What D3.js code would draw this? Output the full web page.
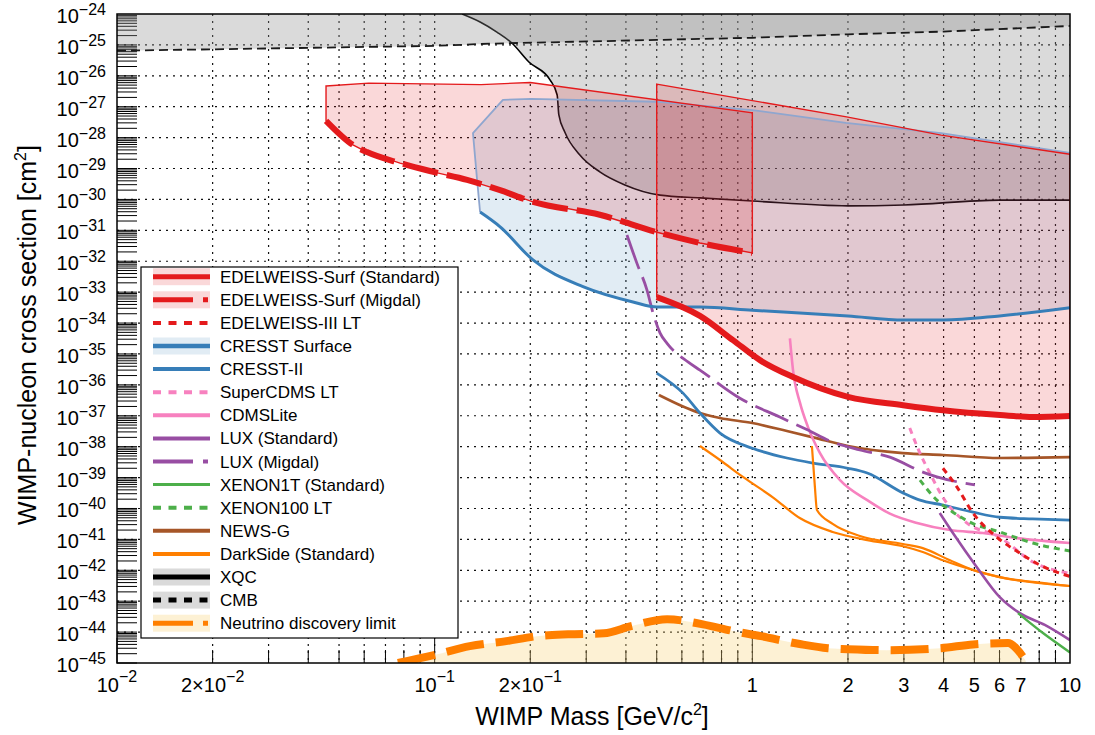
<!DOCTYPE html>
<html>
<head>
<meta charset="utf-8">
<script src="https://cdn.jsdelivr.net/npm/d3@7"></script>
<style>
  html, body { margin: 0; padding: 0; background: #fff; }
  svg { display: block; font-family: "Liberation Sans", Arial, Helvetica, sans-serif; }
</style>
</head>
<body>
<svg id="chart" width="1095" height="735"></svg>
<script>
// ---- exclusion limits: [WIMP mass (GeV/c^2), cross section (cm^2)] ----
const cmbLimit = [[0.01,6.5e-26],[0.02,7.2e-26],[0.1,9.3e-26],[0.15,1.1e-25],[0.5,1.45e-25],[1,1.7e-25],[2,2.2e-25],[4,2.7e-25],[10,4.1e-25]];
const xqcLimit = [[0.122,1.0e-24],[0.139,5.5e-25],[0.157,2.6e-25],[0.175,1.15e-25],[0.198,2.8e-26],[0.231,7.3e-27],[0.243,2.4e-27],[0.246,5.4e-28],[0.257,1.5e-28],[0.286,2.8e-29],[0.331,7.8e-30],[0.397,2.95e-30],[0.512,1.38e-30],[0.684,1.12e-30],[1,8.9e-31],[2,6.2e-31],[3,6.6e-31],[6,9.5e-31],[10,9.5e-31]];

const edwMigdalTop = [[0.0455,4.7e-27],[0.062,5.8e-27],[0.14,5.2e-27],[0.2,6.1e-27],[1,6.3e-28]];
const edwMigdal = [[0.0455,3.5e-28],[0.0553,5.8e-29],[0.0612,3.4e-29],[0.0778,1.5e-29],[0.0989,7.8e-30],[0.1265,4.3e-30],[0.1607,2.0e-30],[0.2039,8.3e-31],[0.331,3.2e-31],[0.501,8.7e-32],[0.684,3.9e-32],[1,1.86e-32]];

const edwStdTop = [[0.5,5.4e-27],[1.98,4.7e-28],[3.93,1.2e-28],[10,2.9e-29]];
const edwStd = [[0.5,6.9e-34],[0.684,1.7e-34],[0.869,2.8e-35],[1.057,6.3e-36],[1.343,1.8e-36],[2,4.1e-37],[2.98,2.2e-37],[3.98,1.5e-37],[6.02,1.05e-37],[7.64,9.1e-38],[10,9.8e-38]];

const cresstSurfTop = [[0.139,3.9e-31],[0.136,4.3e-30],[0.132,1.4e-28],[0.164,1.66e-27],[0.201,1.8e-27],[0.498,1.45e-27],[1,7.8e-28],[1.97,3.0e-28],[3.93,1.4e-28],[10,3.2e-29]];
const cresstSurf = [[0.139,3.9e-31],[0.1607,1.3e-31],[0.2039,1.1e-32],[0.293,1.5e-33],[0.421,4.8e-34],[0.501,3.3e-34],[0.684,3.3e-34],[1,2.6e-34],[2,1.7e-34],[3,1.26e-34],[4,1.26e-34],[6,1.7e-34],[10,3.1e-34]];

const cresstII = [[0.5,2.4e-36],[0.605,5.4e-37],[0.684,1.23e-37],[0.791,2.75e-38],[1,8.9e-39],[1.285,4.3e-39],[1.553,2.95e-39],[2,2.0e-39],[2.3,1.4e-39],[2.98,3.2e-40],[3.37,1.86e-40],[3.98,1.29e-40],[4.95,7.6e-41],[6.01,5.2e-41],[7.63,4.6e-41],[10,4.2e-41]];
const newsG = [[0.508,4.7e-37],[0.605,2.0e-37],[0.684,1.23e-37],[0.791,8.5e-38],[1,5.8e-38],[1.285,3.2e-38],[1.553,2.0e-38],[2,1.05e-38],[2.98,6.2e-39],[3.98,5.4e-39],[6.01,4.3e-39],[10,4.6e-39]];
const luxMigdal = [[0.403,7.1e-32],[0.433,8.7e-33],[0.466,1.17e-33],[0.487,2.1e-34],[0.512,4.8e-35],[0.539,2.2e-35],[0.627,5.5e-36],[0.684,3.0e-36],[0.914,3.7e-37],[1.22,9.1e-38],[1.49,3.5e-38],[1.79,1.4e-38],[2.18,7.8e-39],[2.71,4.6e-39],[3.44,1.5e-39],[3.81,1.05e-39],[5.02,5.8e-40]];
const luxStd = [[3.89,7.1e-41],[4.28,1.6e-41],[5.09,1.26e-42],[6.01,1.35e-43],[6.95,4.1e-44],[8.33,1.7e-44],[10,5.5e-45]];
const xenon1T = [[6.86,4.1e-44],[8.22,9.3e-45],[10,2.2e-45]];
const xenon100LT = [[3.37,8.3e-40],[3.81,1.86e-40],[4.28,7.6e-41],[4.84,3.6e-41],[6.01,1.74e-41],[7.64,7.6e-42],[10,4.2e-42]];
const edwIIILT = [[3.98,2.0e-39],[4.41,4.9e-40],[4.95,7.1e-41],[5.89,1.17e-41],[6.95,3.6e-42],[8.03,1.48e-42],[10,6.3e-43]];
const superCdmsLT = [[3.13,4.0e-38],[3.37,6.2e-39],[3.62,1.4e-39],[3.98,2.3e-40],[4.73,3.4e-41],[6.01,1.17e-41],[7.64,1.86e-42],[10,7.9e-43]];
const cdmsLite = [[1.313,3.2e-35],[1.343,3.0e-36],[1.413,2.6e-37],[1.497,4.3e-38],[1.633,6.2e-39],[1.888,8.3e-40],[2.3,1.86e-40],[2.71,6.8e-41],[3.3,3.4e-41],[4.19,2.0e-41],[5.32,1.6e-41],[6.81,1.1e-41],[10,7.6e-42]];
const darkSideA = [[0.684,1.05e-38],[0.791,3.7e-39],[0.934,1.05e-39],[1.16,2.3e-40],[1.41,4.9e-41],[1.79,1.74e-41],[2.3,9.5e-42],[2.98,6.0e-42],[3.44,3.9e-42],[3.98,2.1e-42],[4.95,1.02e-42],[6.01,6.0e-43],[7.64,4.2e-43],[10,3.1e-43]];
const darkSideB = [[1.54,1.05e-38],[1.574,4.9e-40],[1.597,8.9e-41],[1.79,3.2e-41],[2.18,1.29e-41],[2.98,7.1e-42],[3.44,5.2e-42],[4.19,2.1e-42],[4.95,1.02e-42],[6.01,6.0e-43],[10,3.1e-43]];
const neutrinoFloor = [[0.0766,1.0e-45],[0.0995,1.8e-45],[0.129,3.5e-45],[0.168,5.1e-45],[0.21,7.4e-45],[0.263,8.5e-45],[0.341,9.1e-45],[0.415,1.55e-44],[0.539,2.6e-44],[0.699,1.78e-44],[0.875,1.07e-44],[1.064,7.4e-45],[1.41,4.1e-45],[1.73,3.0e-45],[2,2.8e-45],[2.65,2.6e-45],[3.9,3.0e-45],[4.95,4.0e-45],[6.38,4.4e-45],[6.81,2.8e-45],[7.26,1.15e-45]];

// ---- axis ticks ----
const xTickValues = [0.01, 0.02, 0.1, 0.2, 1, 2, 3, 4, 5, 6, 7, 10];
const xTickBases  = ["10", "2\u00d710", "10", "2\u00d710", "1", "2", "3", "4", "5", "6", "7", "10"];
const xTickExps   = ["\u22122", "\u22122", "\u22121", "\u22121", "", "", "", "", "", "", "", ""];
const yTickExps = d3.range(-24, -46, -1);

// ---- legend ----
const legendNames = ["EDELWEISS-Surf (Standard)", "EDELWEISS-Surf (Migdal)", "EDELWEISS-III LT", "CRESST Surface", "CRESST-II",
  "SuperCDMS LT", "CDMSLite", "LUX (Standard)", "LUX (Migdal)", "XENON1T (Standard)", "XENON100 LT", "NEWS-G",
  "DarkSide (Standard)", "XQC", "CMB", "Neutrino discovery limit"];

const RED = "#e41a1c", BLUE = "#377eb8", PINK = "#f781bf", PURPLE = "#984ea3", GREEN = "#4daf4a",
      BROWN = "#a65628", ORANGE = "#ff7f00", BLACK = "#000";
const FILL_RED = {c: RED, o: 0.17}, FILL_BLUE = {c: BLUE, o: 0.15}, FILL_GRAY = {c: "#8c8c8c", o: 0.32},
      FILL_YEL = {c: "#f9d27a", o: 0.32};

const legendStyle = [
  {color: RED, w: 5, dash: null, band: FILL_RED},
  {color: RED, w: 5, dash: "40,10,5,10", band: FILL_RED},
  {color: RED, w: 4, dash: "8,7.5", band: null},
  {color: BLUE, w: 4.5, dash: null, band: FILL_BLUE},
  {color: BLUE, w: 4, dash: null, band: null},
  {color: PINK, w: 4, dash: "8,7.5", band: null},
  {color: PINK, w: 4, dash: null, band: null},
  {color: PURPLE, w: 4, dash: null, band: null},
  {color: PURPLE, w: 4, dash: "40,10,5,10", band: null},
  {color: GREEN, w: 3, dash: null, band: null},
  {color: GREEN, w: 4, dash: "8,7.5", band: null},
  {color: BROWN, w: 4, dash: null, band: null},
  {color: ORANGE, w: 4, dash: null, band: null},
  {color: BLACK, w: 5, dash: null, band: FILL_GRAY},
  {color: BLACK, w: 5, dash: "8,7.5", band: FILL_GRAY},
  {color: ORANGE, w: 5, dash: "40,10,5,10", band: FILL_YEL}
];

// ---- layout ----
const L = 117, R = 1070, T = 14, B = 663;
const svg = d3.select("#chart");
const x = d3.scaleLog().domain([0.01, 10]).range([L, R]);
const y = d3.scaleLog().domain([1e-45, 1e-24]).range([B, T]);

svg.append("rect").attr("width", 1095).attr("height", 735).attr("fill", "#fff");
svg.append("defs").append("clipPath").attr("id", "plotclip")
  .append("rect").attr("x", L).attr("y", T).attr("width", R - L).attr("height", B - T);

const smooth = d3.line().x(d => x(d[0])).y(d => y(d[1])).curve(d3.curveMonotoneX);
const straight = d3.line().x(d => x(d[0])).y(d => y(d[1]));

// grid
const grid = svg.append("g").attr("stroke", "#111").attr("stroke-width", 1.2).attr("stroke-dasharray", "2,5");
const xGridVals = [];
[-2, -1, 0].forEach(k => d3.range(1, 10).forEach(j => { const v = j * Math.pow(10, k); if (v > 0.0100001) xGridVals.push(v); }));
grid.selectAll("line.v").data(xGridVals).join("line")
  .attr("x1", d => x(d)).attr("x2", d => x(d)).attr("y1", T).attr("y2", B);
grid.selectAll("line.h").data(d3.range(-44, -24)).join("line")
  .attr("x1", L).attr("x2", R).attr("y1", d => y(Math.pow(10, d))).attr("y2", d => y(Math.pow(10, d)));

// ticks
const ticks = svg.append("g").attr("stroke", "#000").attr("stroke-width", 1);
const yTickVals = [];
d3.range(-45, -24).forEach(e => d3.range(1, 10).forEach(j => yTickVals.push(j * Math.pow(10, e))));
ticks.selectAll("line.y").data(yTickVals).join("line")
  .attr("x1", L).attr("x2", L + 20).attr("y1", d => y(d)).attr("y2", d => y(d));
const xTickAll = [];
[-2, -1, 0].forEach(k => d3.range(1, 10).forEach(j => xTickAll.push({v: j * Math.pow(10, k), major: j === 1})));
ticks.selectAll("line.x").data(xTickAll).join("line")
  .attr("x1", d => x(d.v)).attr("x2", d => x(d.v)).attr("y1", B).attr("y2", d => B - (d.major ? 25 : 13));

const plot = svg.append("g").attr("clip-path", "url(#plotclip)");

function area(pts, f) {
  plot.append("path").attr("d", pts).attr("fill", f.c).attr("fill-opacity", f.o).attr("stroke", "none");
}
function curve(data, color, w, dash, gen) {
  plot.append("path").attr("d", (gen || smooth)(data)).attr("fill", "none")
    .attr("stroke", color).attr("stroke-width", w).attr("stroke-dasharray", dash || null)
    .attr("stroke-linejoin", "round");
}

// neutrino fog
area(d3.area().x(d => x(d[0])).y0(B).y1(d => y(d[1])).curve(d3.curveMonotoneX)(neutrinoFloor), FILL_YEL);

// XQC region (above the curve, up to the top edge)
const xqcPoly = xqcLimit.concat([[10, 1e-24]]);
area(straight(xqcPoly) + "Z", FILL_GRAY);
curve(xqcLimit, BLACK, 1.6);

// CMB region
const cmbPoly = cmbLimit.concat([[10, 1e-24], [0.01, 1e-24]]);
area(straight(cmbPoly) + "Z", FILL_GRAY);
curve(cmbLimit, "#1a1a1a", 1.8, "9,5", straight);

// CRESST surface region
const cresstPoly = cresstSurfTop.concat(cresstSurf.slice().reverse());
area(straight(cresstPoly) + "Z", FILL_BLUE);

// EDELWEISS surface regions
const edwMigPoly = edwMigdalTop.concat(edwMigdal.slice().reverse());
area(straight(edwMigPoly) + "Z", FILL_RED);
const edwStdPoly = edwStdTop.concat(edwStd.slice().reverse());
area(straight(edwStdPoly) + "Z", FILL_RED);

curve(cresstSurfTop, "#8fa6cf", 1.8, null, straight);
plot.append("path").attr("d", straight(edwMigPoly) + "Z").attr("fill", "none").attr("stroke", RED).attr("stroke-width", 1.4);
plot.append("path").attr("d", straight(edwStdPoly) + "Z").attr("fill", "none").attr("stroke", RED).attr("stroke-width", 1.4);

// experimental limits
curve(newsG, BROWN, 2.6);
curve(cresstII, BLUE, 2.8);
curve(darkSideB, ORANGE, 2.2);
curve(darkSideA, ORANGE, 2.2);
curve(cdmsLite, PINK, 2.6);
curve(superCdmsLT, PINK, 3, "6,5");
curve(luxMigdal, PURPLE, 2.8, "36,9");
curve(luxStd, PURPLE, 2.6);
curve(xenon100LT, GREEN, 3, "6,5");
curve(xenon1T, GREEN, 2.4);
curve(edwIIILT, RED, 3, "6,5");
curve(cresstSurf, BLUE, 3);
curve(edwStd, RED, 6);
curve(edwMigdal, RED, 6, "36,9");
curve(neutrinoFloor, ORANGE, 8, "38,12");

// frame
svg.append("rect").attr("x", L).attr("y", T).attr("width", R - L).attr("height", B - T)
  .attr("fill", "none").attr("stroke", "#000").attr("stroke-width", 1.5);

// y tick labels
const yLab = svg.append("g").attr("fill", "#000");
yTickExps.forEach(e => {
  const t = yLab.append("text").attr("x", 106).attr("y", y(Math.pow(10, e)) + 9).attr("text-anchor", "end")
    .attr("font-size", 20);
  t.append("tspan").text("10");
  t.append("tspan").attr("dy", -8).attr("font-size", 16).text("\u2212" + (-e));
});

// x tick labels
xTickValues.forEach((v, i) => {
  const t = svg.append("text").attr("x", x(v)).attr("y", 692).attr("text-anchor", "middle").attr("font-size", 20);
  t.append("tspan").text(xTickBases[i]);
  if (xTickExps[i]) t.append("tspan").attr("dy", -10).attr("font-size", 16).text(xTickExps[i]);
});

// axis titles
const xt = svg.append("text").attr("x", 592).attr("y", 725).attr("text-anchor", "middle").attr("font-size", 25);
xt.append("tspan").text("WIMP Mass [GeV/c");
xt.append("tspan").attr("dy", -10).attr("font-size", 16).text("2");
xt.append("tspan").attr("dy", 10).text("]");

const yt = svg.append("text").attr("transform", "translate(36,335) rotate(-90)").attr("text-anchor", "middle").attr("font-size", 25);
yt.append("tspan").text("WIMP-nucleon cross section [cm");
yt.append("tspan").attr("dy", -10).attr("font-size", 16).text("2");
yt.append("tspan").attr("dy", 10).text("]");

// legend
const lg = svg.append("g");
lg.append("rect").attr("x", 141).attr("y", 267).attr("width", 317).attr("height", 371)
  .attr("fill", "#fff").attr("stroke", "#000").attr("stroke-width", 1.2);
legendNames.forEach((name, i) => {
  const cy = 276.7 + i * 23.1, s = legendStyle[i];
  if (s.band) lg.append("rect").attr("x", 153).attr("y", cy - 8.5).attr("width", 57).attr("height", 17)
    .attr("fill", s.band.c).attr("fill-opacity", s.band.o);
  lg.append("line").attr("x1", 153).attr("x2", 210).attr("y1", cy).attr("y2", cy)
    .attr("stroke", s.color).attr("stroke-width", s.w).attr("stroke-dasharray", s.dash);
  lg.append("text").attr("x", 220).attr("y", cy + 6).attr("font-size", 17).attr("fill", "#000").text(name);
});
</script>
</body>
</html>
